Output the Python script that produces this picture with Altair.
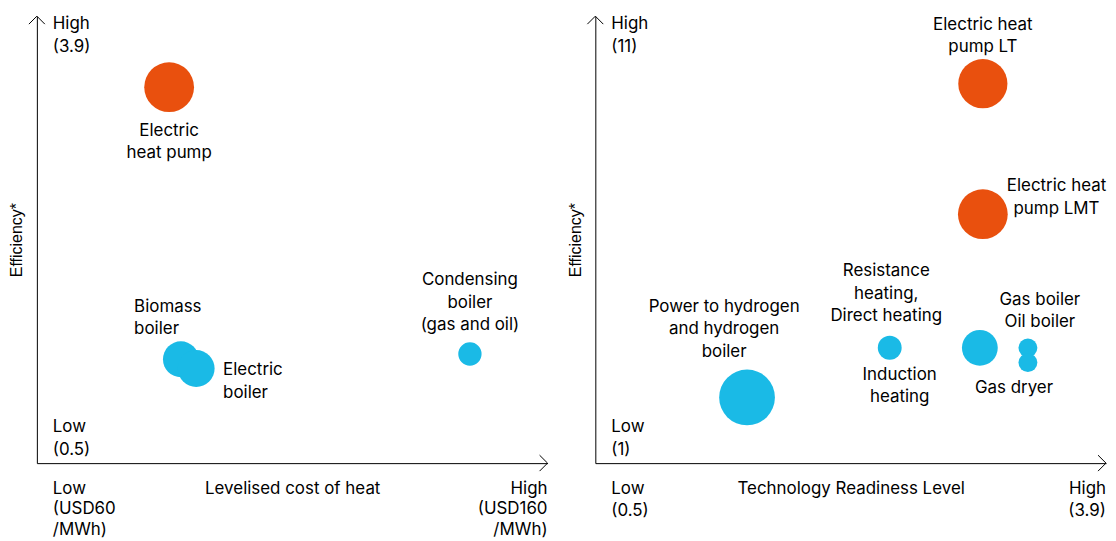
import altair as alt
import pandas as pd

ORANGE = "#E9500E"
BLUE = "#1ABAE6"
FONT = "Inter"
AXFONT = "Liberation Sans"
FS = 17
LH = 22.5
LH_BOTTOM = 20.5

# ---------------- Left panel: levelised cost of heat vs efficiency ----------------
L_names = ["Electric heat pump", "Biomass boiler", "Electric boiler", "Condensing boiler (gas and oil)"]
L_cost = [85.9, 88.2, 91.2, 144.8]          # USD/MWh
L_eff = [3.36, 1.29, 1.22, 1.33]            # efficiency
L_weight = [625, 324, 342, 137]             # bubble weight
L_group = ["Heat pump", "Other", "Other", "Other"]
L_label = ["Electric\nheat pump", "Biomass\nboiler", "Electric\nboiler", "Condensing\nboiler\n(gas and oil)"]
L_xdom = [60, 160]
L_ydom = [0.5, 3.9]

# ---------------- Right panel: technology readiness vs efficiency ----------------
R_names = ["Electric heat pump LT", "Electric heat pump LMT", "Power to hydrogen and hydrogen boiler",
           "Induction heating", "Resistance heating, Direct heating", "Gas boiler / Oil boiler", "Gas dryer"]
R_trl = [3.08, 3.08, 1.51, 2.46, 3.06, 3.38, 3.38]
R_eff = [9.49, 6.57, 2.47, 3.58, 3.58, 3.58, 3.25]
R_weight = [610, 625, 784, 144, 324, 90, 90]
R_group = ["Heat pump", "Heat pump", "Other", "Other", "Other", "Other", "Other"]
R_label = ["Electric heat\npump LT", "Electric heat\npump LMT", "Power to hydrogen\nand hydrogen\nboiler",
           "Induction\nheating", "Resistance\nheating,\nDirect heating", "Gas boiler\nOil boiler", "Gas dryer"]
R_xdom = [0.5, 3.9]
R_ydom = [1, 11]

W, H = 513, 449
ARROW = 8  # arrowhead half-size in px

# label placement (pixel offsets from bubble centre to label top), alignment
L_place = [(0, 36, "center"), (-47, -61, "left"), (27, -6, "left"), (0, -82, "center")]
R_place = [(0, -67, "center"), (74, -36, "center"), (-23, -99, "center"),
           (10, 19, "center"), (-94, -85, "center"), (12, -56, "center"), (-14, 18, "center")]


def panel(names, xs_, ys_, weights, groups, labels, place, xdom, ydom, xtitle, corners):
    df = pd.DataFrame({"name": names, "x": xs_, "y": ys_, "w": weights, "g": groups})
    sx = W / (xdom[1] - xdom[0])
    sy = H / (ydom[1] - ydom[0])
    lab = pd.DataFrame({
        "text": labels,
        "x": [x + p[0] / sx for x, p in zip(xs_, place)],
        "y": [y - p[1] / sy for y, p in zip(ys_, place)],
        "align": [p[2] for p in place],
    })
    xscale = alt.Scale(domain=xdom, nice=False, zero=False)
    yscale = alt.Scale(domain=ydom, nice=False, zero=False)
    xaxis = alt.Axis(title=xtitle, domain=True, domainColor="black", domainWidth=1, ticks=False,
                     labels=False, grid=False, titleFont=FONT, titleFontSize=FS, titleFontWeight="normal",
                     titleColor="black", titlePadding=18)
    yaxis = alt.Axis(title="Efficiency*", domain=True, domainColor="black", domainWidth=1, ticks=False,
                     labels=False, grid=False, titleFont=AXFONT, titleFontSize=16, titleFontWeight="normal",
                     titleColor="black", titlePadding=12)
    X = alt.X("x:Q", scale=xscale, axis=xaxis)
    Y = alt.Y("y:Q", scale=yscale, axis=yaxis)

    bubbles = alt.Chart(df).mark_circle(opacity=1).encode(
        x=X, y=Y,
        size=alt.Size("w:Q", scale=alt.Scale(type="linear", domain=[0, 1000], range=[0, 4000]), legend=None),
        color=alt.Color("g:N", scale=alt.Scale(domain=["Heat pump", "Other"], range=[ORANGE, BLUE]), legend=None),
        tooltip=["name:N"],
    )
    layers = [bubbles]
    for al in ["center", "left"]:
        sub = lab[lab["align"] == al]
        if len(sub):
            layers.append(alt.Chart(sub).mark_text(align=al, baseline="top", font=FONT, fontSize=FS,
                                                   lineBreak="\n", lineHeight=LH, color="black").encode(
                x=X, y=Y, text="text:N"))
    # arrowheads (open chevrons at the axis ends)
    ax, ay = ARROW / sx, ARROW / sy
    arr = pd.DataFrame({
        "x": [xdom[1] - ax, xdom[1], xdom[1] - ax, xdom[0] - ax, xdom[0], xdom[0] + ax],
        "y": [ydom[0] + ay, ydom[0], ydom[0] - ay, ydom[1] - ay, ydom[1], ydom[1] - ay],
        "k": ["a", "a", "a", "b", "b", "b"],
        "o": [0, 1, 2, 0, 1, 2],
    })
    layers.append(alt.Chart(arr).mark_line(color="black", strokeWidth=1).encode(
        x=X, y=Y, detail="k:N", order="o:Q"))
    # corner annotations
    for text, cx, cy, dx, dy, al, lh in corners:
        cdf = pd.DataFrame({"x": [cx], "y": [cy], "text": [text]})
        layers.append(alt.Chart(cdf).mark_text(align=al, baseline="top", dx=dx, dy=dy, font=FONT,
                                               fontSize=FS, lineBreak="\n", lineHeight=lh,
                                               color="black").encode(x=X, y=Y, text="text:N"))
    return alt.layer(*layers).properties(width=W, height=H)


left = panel(L_names, L_cost, L_eff, L_weight, L_group, L_label, L_place, L_xdom, L_ydom,
             "Levelised cost of heat",
             [("High\n(3.9)", L_xdom[0], L_ydom[1], 16, 0, "left", LH),
              ("Low\n(0.5)", L_xdom[0], L_ydom[0], 16, -44, "left", LH),
              ("Low\n(USD60\n/MWh)", L_xdom[0], L_ydom[0], 16, 18, "left", LH_BOTTOM),
              ("High\n(USD160\n/MWh)", L_xdom[1], L_ydom[0], 0, 18, "right", LH_BOTTOM)])

right = panel(R_names, R_trl, R_eff, R_weight, R_group, R_label, R_place, R_xdom, R_ydom,
              "Technology Readiness Level",
              [("High\n(11)", R_xdom[0], R_ydom[1], 16, 0, "left", LH),
               ("Low\n(1)", R_xdom[0], R_ydom[0], 16, -44, "left", LH),
               ("Low\n(0.5)", R_xdom[0], R_ydom[0], 16, 18, "left", LH),
               ("High\n(3.9)", R_xdom[1], R_ydom[0], 0, 18, "right", LH)])

chart = alt.hconcat(left, right, spacing=18).properties(
    padding={"left": 1, "top": 5, "right": 0, "bottom": 0}, background="white"
).configure_view(stroke=None)

chart.save("out.html", embed_options={"renderer": "svg", "actions": False})
